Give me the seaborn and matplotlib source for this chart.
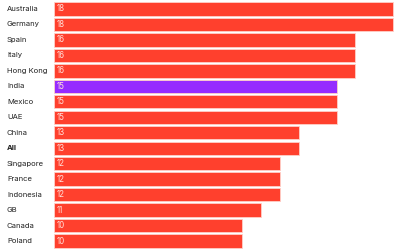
import numpy as np
import pandas as pd
import matplotlib
matplotlib.use("Agg")
import matplotlib.pyplot as plt
import seaborn as sns

countries = ["Australia", "Germany", "Spain", "Italy", "Hong Kong", "India", "Mexico", "UAE",
             "China", "All", "Singapore", "France", "Indonesia", "GB", "Canada", "Poland"]
values = [18, 18, 16, 16, 16, 15, 15, 15, 13, 13, 12, 12, 12, 11, 10, 10]
highlight = "India"

RED = "#ff402d"
PURPLE = "#962bff"

sns.set_style("white")
plt.rcParams["font.family"] = ["Inter", "DejaVu Sans"]

df = pd.DataFrame({"country": countries, "value": values})
colors = [PURPLE if c == highlight else RED for c in countries]

fig = plt.figure(figsize=(4, 2.5), dpi=100)
ax = fig.add_axes([0.135, 0.005, 0.865, 0.99])
sns.barplot(data=df, x="value", y="country", hue="country", palette=colors,
            saturation=1, legend=False, width=0.86, edgecolor="#ffd0c8",
            linewidth=0.6, ax=ax)

ax.set_xlim(0, 18.37)
ax.set_ylim(len(countries) - 0.5, -0.5)
ax.set_xlabel("")
ax.set_ylabel("")
ax.set_xticks([])
ax.set_yticks([])
for s in ax.spines.values():
    s.set_visible(False)

# country names sit left of the bars, values inside them
for i, (c, v) in enumerate(zip(countries, values)):
    ax.text(-47 / 18.83, i, c, ha="left", va="center", fontsize=5.5,
            color="#222222", fontweight="bold" if c == "All" else "normal")
    ax.text(0.15, i, str(v), ha="left", va="center", fontsize=5.8, color="#ffe0da")

fig.savefig("out.png", dpi=100)
